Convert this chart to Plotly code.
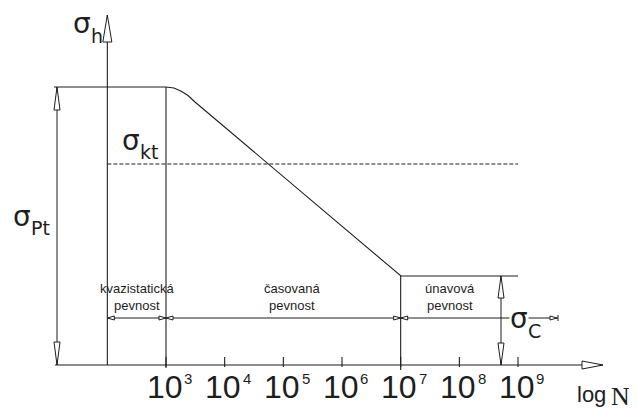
import plotly.graph_objects as go

# ---------------- data ----------------
decade_exponents = [3, 4, 5, 6, 7, 8, 9]          # log N of the decade ticks
tick_base_labels = ["10", "10", "10", "10", "10", "10", "10"]
tick_exp_labels = ["3", "4", "5", "6", "7", "8", "9"]

# Wöhler curve: log N vs. stress amplitude (sigma_Pt = 100 %)
curve_logN = [1.09, 3.00, 3.136, 3.268, 3.375, 3.494, 7.005, 9.00]
curve_sigma = [100.0, 100.0, 99.64, 98.38, 96.94, 94.6, 32.0, 32.0]

sigma_Pt = 100.0     # quasi-static strength
sigma_kt = 72.3      # yield level (dashed)
sigma_C = 32.0       # fatigue limit
logN_axis = 2.0      # position of the sigma_h axis
logN_quasi_end = 3.0
logN_fatigue_start = 7.0
logN_end = 9.0

region_line1 = ["kvazistatická", "časovaná", "únavová"]
region_line2 = ["pevnost", "pevnost", "pevnost"]
sigma_subscripts = ["h", "kt", "Pt", "C"]

# ---------------- drawing scale (screen pixels <-> data) ----------------
OFF = 8                         # page body margin
W, H = 637 - OFF, 419 - OFF     # figure size visible in the window
PX_L3, PPD = 166.0, 58.67       # screen pixel of log N = 3, pixels per decade
PY_0, PPU = 365.0, 2.78         # screen pixel of sigma = 0, pixels per sigma unit


def Lx(px):
    return 3 + (px - PX_L3) / PPD


def Sy(py):
    return (PY_0 - py) / PPU


def dL(p):
    return p / PPD


def dS(p):
    return p / PPU


INK = "#1e1e1e"
SANS = "Liberation Sans, Arial, sans-serif"
GREEK = "DejaVu Sans, sans-serif"
SERIF = "Liberation Serif, Times New Roman, serif"

fig = go.Figure()


def line(xs, ys, dash="solid", width=1.1):
    fig.add_trace(go.Scatter(x=xs, y=ys, mode="lines",
                             line=dict(color=INK, width=width, dash=dash),
                             hoverinfo="skip"))


# axes
x_axis_start = Lx(55)
x_axis_tip = Lx(603)
y_axis_tip = Sy(15)
line([x_axis_start, x_axis_tip], [0, 0])
line([logN_axis, logN_axis], [0, y_axis_tip])

# curve
line(curve_logN, curve_sigma)

# dashed sigma_kt
line([logN_axis, logN_end], [sigma_kt, sigma_kt], dash="4px,2px", width=1.0)

# vertical boundaries
line([logN_quasi_end, logN_quasi_end], [sigma_Pt, -dS(3)])
line([logN_fatigue_start, logN_fatigue_start], [sigma_C, -dS(5)])

# decade ticks
for e in decade_exponents:
    line([e, e], [dS(8), -dS(2)])

# dimension lines
L_pt = Lx(57)
L_c = Lx(501)
dim_y = Sy(318)
dim_end = Lx(558)
line([L_pt, L_pt], [0, sigma_Pt], width=1.0)
line([L_c, L_c], [0, sigma_C], width=1.0)
line([logN_axis, dim_end], [dim_y, dim_y], width=1.0)
line([dim_end, dim_end], [dim_y - dS(3), dim_y + dS(3)], width=1.0)


# open arrowheads
def tri(tx, ty, d, length, half):
    if d == "up":
        return [tx, tx - dL(half), tx + dL(half), tx], [ty, ty - dS(length), ty - dS(length), ty]
    if d == "down":
        return [tx, tx - dL(half), tx + dL(half), tx], [ty, ty + dS(length), ty + dS(length), ty]
    if d == "right":
        return [tx, tx - dL(length), tx - dL(length), tx], [ty, ty - dS(half), ty + dS(half), ty]
    return [tx, tx + dL(length), tx + dL(length), tx], [ty, ty - dS(half), ty + dS(half), ty]


heads = [
    (logN_axis, y_axis_tip, "up", 27, 4.5),
    (x_axis_tip, 0, "right", 21, 4),
    (L_pt, sigma_Pt, "up", 23, 3),
    (L_pt, 0, "down", 23, 3),
    (L_c, sigma_C, "up", 22, 3),
    (L_c, 0, "down", 22, 3),
    (logN_axis, dim_y, "left", 7, 2),
    (logN_quasi_end, dim_y, "right", 7, 2),
    (logN_quasi_end, dim_y, "left", 7, 2),
    (logN_fatigue_start, dim_y, "right", 7, 2),
    (logN_fatigue_start, dim_y, "left", 7, 2),
    (Lx(557), dim_y, "right", 7, 2),
]
hx, hy = [], []
for h in heads:
    xs, ys = tri(*h)
    hx += xs + [None]
    hy += ys + [None]
fig.add_trace(go.Scatter(x=hx, y=hy, mode="lines", fill="toself", fillcolor="white",
                         line=dict(color=INK, width=1.0), hoverinfo="skip"))

ann = []


def text(t, px, py, size, font=SANS, xanchor="center", **kw):
    ann.append(dict(x=Lx(px), y=Sy(py), xref="x", yref="y", text=t, showarrow=False,
                    xanchor=xanchor, yanchor="middle", borderpad=0,
                    font=dict(family=font, size=size, color=INK), **kw))


# sigma labels: sigma glyph + separate subscript
SIG_SIZE, SUB_SIZE = 28, 19
SIG_W = 0.634 * SIG_SIZE
sigma_pos = [(72, 23), (121, 139.5), (12, 215.5), (509, 318)]
for sub, (px, py) in zip(sigma_subscripts, sigma_pos):
    extra = dict(bgcolor="white") if sub == "C" else {}
    text("σ", px, py, SIG_SIZE, font=GREEK, xanchor="left", height=28, **extra)
    text(sub, px + SIG_W + 0.5, py + 12.5, SUB_SIZE, font=GREEK, xanchor="left", **extra)

# region labels
region_px = [137, 292, 450]
for name, word, px in zip(region_line1, region_line2, region_px):
    text(name, px, 288.5, 13)
    text(word, px, 305.5, 13)

# tick labels: "10" with a small raised exponent
BASE_SIZE = 32
BASE_W = 2 * 0.556 * BASE_SIZE
for e, base, ex in zip(decade_exponents, tick_base_labels, tick_exp_labels):
    px = PX_L3 + (e - 3) * PPD
    text(base, px - 1.5, 387, BASE_SIZE)
    text(ex, px - 1.5 + BASE_W / 2 + 1, 378, 15, xanchor="left")

# axis title
text("log", 576, 394.5, 22, xanchor="left")
text("N", 609.5, 396, 26, font=SERIF, xanchor="left")

fig.update_layout(
    width=W, height=H, margin=dict(l=0, r=0, t=0, b=0),
    paper_bgcolor="white", plot_bgcolor="white", showlegend=False,
    xaxis=dict(range=[Lx(OFF), Lx(OFF + W)], visible=False, fixedrange=True),
    yaxis=dict(range=[Sy(OFF + H), Sy(OFF)], visible=False, fixedrange=True),
    annotations=ann,
)

fig.write_html("out.html", config={"displayModeBar": False})
